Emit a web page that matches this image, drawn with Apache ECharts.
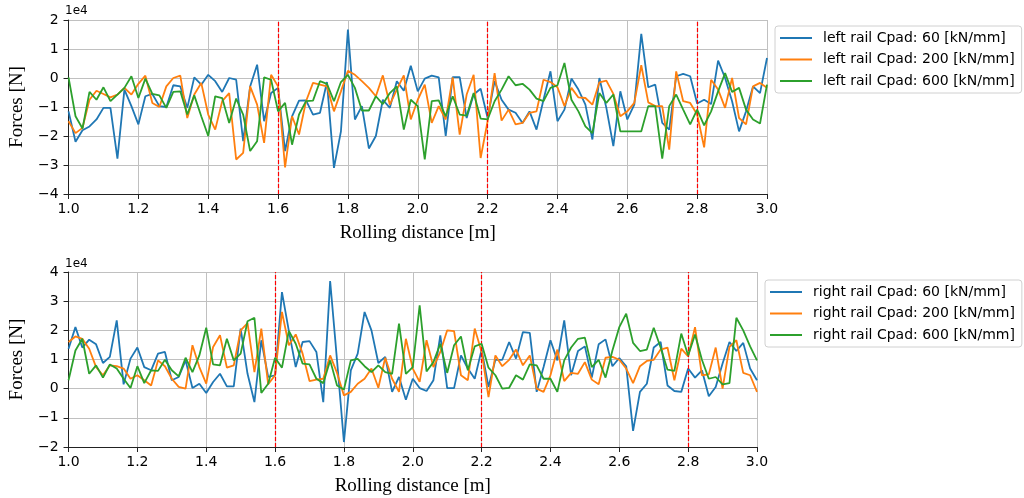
<!DOCTYPE html>
<html>
<head>
<meta charset="utf-8">
<script src="https://cdn.jsdelivr.net/npm/echarts@6/dist/echarts.min.js"></script>
<style>
html,body{margin:0;padding:0;background:#fff;}
#chart{width:1024px;height:498px;}
</style>
</head>
<body>
<div id="chart"></div>
<script>
// Rolling distance sampling (m)
const xStart = 1.0, xStep = 0.02, nPts = 101;
const xTicks = ['1.0','1.2','1.4','1.6','1.8','2.0','2.2','2.4','2.6','2.8','3.0'];
const markerX = [1.6, 2.2, 2.8];
const seriesNamesLeft = ['left rail Cpad: 60 [kN/mm]','left rail Cpad: 200 [kN/mm]','left rail Cpad: 600 [kN/mm]'];
const seriesNamesRight = ['right rail Cpad: 60 [kN/mm]','right rail Cpad: 200 [kN/mm]','right rail Cpad: 600 [kN/mm]'];

// Forces in units of 1e4 N
const left60 = [-1.15,-2.2,-1.8,-1.67,-1.43,-1.03,-1.03,-2.78,-0.4,-0.97,-1.6,-0.63,-0.55,-0.97,-1.0,-0.25,-0.29,-1.03,0.02,-0.23,0.11,-0.11,-0.48,0,-0.06,-2.18,-0.29,0.46,-1.49,-0.52,-0.34,-2.52,-1.32,-0.78,
 -0.77,-1.26,-1.2,-0.14,-3.1,-1.84,1.67,-1.43,-0.97,-2.43,-2.0,-0.75,-1.03,-0.11,-0.44,0.42,-0.46,-0.02,0.08,0.02,-2.0,0.03,0.03,-1.38,-0.57,-0.37,-1.38,-0.11,-0.75,-1.09,-1.2,-1.55,-1.15,-1.78,
 -0.75,0.23,-1.49,-1.09,-0.02,-0.4,-0.92,-2.12,0,-1.03,-2.35,-0.46,-1.43,-0.92,1.52,-0.32,-0.23,-1.55,-1.78,0.06,0.14,0.06,-0.88,-0.75,-0.9,0.6,0,-0.8,-1.84,-1.15,-0.29,-0.52,0.69];
const left200 = [-1.49,-1.9,-1.72,-0.75,-0.44,-0.55,-0.67,-0.57,-0.34,-0.57,-0.2,0.08,-0.86,-1.0,-0.29,0,0.08,-1.38,-0.57,-0.17,-1.26,-1.78,-0.8,-0.52,-2.81,-2.58,-0.29,-0.92,-2.24,0.11,-0.29,-3.08,-1.32,-1.95,
 -0.8,-0.17,-0.23,-0.29,-1.15,-0.46,0.25,0.11,-0.11,-0.34,-0.63,0.09,-0.92,-0.4,0.09,-1.43,-0.75,-0.23,-1.55,-0.97,-1.43,0.02,-1.95,-0.57,0.11,-2.76,-1.49,0.17,-1.47,-1.09,-1.6,-1.55,-1.2,-1.15,
 -0.06,-0.14,-0.32,-0.97,-0.34,-0.67,-0.69,-0.92,-0.15,-0.09,-0.55,-1.32,-1.15,-0.86,0.44,-0.84,-0.97,-0.97,-2.47,0.23,-0.8,-0.86,-1.26,-2.39,-0.06,-0.4,-1.03,0,-1.38,-1.6,-0.29,-0.17,-0.34];
const left600 = [0.02,-1.32,-1.74,-0.48,-0.75,-0.32,-0.8,-0.57,-0.34,0.06,-0.69,-0.02,-0.55,-0.6,-1.03,-0.48,-0.46,-1.26,-0.6,-1.32,-2.0,-0.63,-0.69,-1.55,-0.71,-1.26,-2.52,-2.18,0.02,-0.06,-1.15,-0.86,-2.3,-1.26,
 -0.8,-0.78,-0.11,-0.2,-0.8,-0.14,0.11,-0.34,-1.12,-1.12,-0.63,-0.9,-0.52,-0.29,-1.78,-0.75,-0.97,-2.81,-0.8,-0.77,-1.32,-0.63,-1.26,-1.3,-0.52,-1.4,-1.43,-0.8,-0.4,0.06,-0.25,-0.2,-0.4,-0.71,
 -0.8,-0.34,-0.25,0.52,-0.75,-1.15,-1.67,-1.9,-0.52,-0.86,-0.57,-1.84,-1.84,-1.84,-1.84,-0.97,-0.97,-2.78,-0.97,-0.57,-1.09,-1.6,-1.09,-1.63,-1.15,-0.46,0.17,-0.48,-0.34,-1.09,-1.43,-1.57,-0.23];

const right60 = [1.37,2.11,1.41,1.68,1.52,0.88,1.09,2.34,0.15,1.03,1.41,0.74,0.63,1.2,1.26,0.29,0.4,0.97,0.02,0.17,-0.15,0.23,0.51,0.08,0.08,2.06,0.51,-0.46,1.66,0.4,0.46,3.31,1.98,0.74,1.6,
 1.63,1.26,-0.46,3.69,0.97,-1.83,0.63,1.2,2.63,2.0,0.88,1.09,-0.11,0.4,-0.38,0.34,0.02,-0.08,0.29,1.83,0.02,0.02,1.14,0.69,0.34,1.34,0.06,0.99,0.99,1.6,1.03,1.94,1.91,-0.11,
 0.74,1.66,0.97,2.34,0.46,1.29,1.45,0.38,1.52,1.69,0.77,1.05,0.77,-1.45,-0.11,0.17,1.41,1.6,0.11,-0.08,-0.11,0.69,0.38,0.63,-0.26,0.06,0.86,1.6,1.29,1.57,0.69,0.29];
const right200 = [1.6,1.79,1.71,1.37,0.74,0.46,0.8,0.77,0.69,0.34,0.46,0.29,0.11,0.97,0.77,0.34,0.06,0,1.49,0.74,0.17,1.43,1.83,0.72,0.8,2.0,2.25,0.57,2.06,0.15,0.46,2.63,1.49,1.86,1.2,
 0.26,0.31,0.34,1.14,0.54,-0.23,-0.11,0.17,0.34,0.69,0.03,1.06,0.34,-0.11,1.71,0.69,0.23,1.66,0.74,1.26,2.0,1.97,0.46,0.29,2.06,1.26,-0.29,1.14,0.77,0.99,1.34,0.8,1.14,
 0,-0.11,0.46,1.34,0.26,0.54,0.51,0.91,0.31,0.15,1.06,1.09,0.99,0.69,0.19,0.77,0.95,0.99,1.34,1.41,0.29,1.37,1.11,2.11,0.46,0.49,1.41,0,1.43,1.66,0.54,0.46,-0.11];
const right600 = [0.29,1.31,1.71,0.51,0.8,0.38,0.83,0.69,0.34,0.02,0.77,0.19,0.63,0.61,0.99,0.63,0.42,1.06,0.57,1.14,2.09,0.83,0.8,1.71,0.97,1.2,2.31,2.43,-0.15,0.17,1.06,0.72,1.98,1.54,
 0.86,0.83,0.34,0.19,0.97,0.11,-0.03,0.97,1.02,0.77,0.57,0.8,0.57,0.51,2.23,0.51,0.74,2.86,0.59,0.91,1.54,0.54,1.49,1.79,0.63,1.45,1.54,0.72,0.46,0,0.03,0.46,0.31,0.83,
 0.8,0.34,0.34,-0.11,0.97,1.41,1.71,1.75,0.74,0.99,0.38,1.31,2.11,2.57,1.57,1.29,1.34,2.09,1.41,0.65,0.61,1.89,1.14,1.86,0.99,0.34,0.4,0.15,0.19,2.43,2.0,1.45,0.97];

const colors = ['#1f77b4','#ff7f0e','#2ca02c'];
const distance = Array.from({length: nPts}, (_, i) => +(xStart + i * xStep).toFixed(2));
const pair = arr => arr.map((v, i) => [distance[i], v]);

const tickFont = {fontFamily: 'DejaVu Sans', fontSize: 14, color: '#000'};
const titleFont = {fontFamily: 'Liberation Serif', fontSize: 19, color: '#000'};
const minus = v => String(v).replace('-', '\u2212');

function makeX(gi) {
  return {
    type: 'value', gridIndex: gi, min: 1, max: 3, interval: 0.2,
    name: 'Rolling distance [m]', nameLocation: 'middle', nameGap: 30,
    nameTextStyle: titleFont,
    axisLine: {show: true, onZero: false, lineStyle: {color: '#222', width: 1}},
    axisTick: {show: true, length: 5, lineStyle: {color: '#222'}},
    axisLabel: Object.assign({margin: 8, formatter: v => v.toFixed(1)}, tickFont),
    splitLine: {show: true, lineStyle: {color: '#c0c0c0', width: 1}}
  };
}
function makeY(gi, mn, mx) {
  return {
    type: 'value', gridIndex: gi, min: mn, max: mx, interval: 1,
    name: 'Forces [N]', nameLocation: 'middle', nameGap: 38,
    nameTextStyle: titleFont,
    axisLine: {show: true, lineStyle: {color: '#222', width: 1}},
    axisTick: {show: true, length: 5, lineStyle: {color: '#222'}},
    axisLabel: Object.assign({margin: 10, formatter: v => minus(v)}, tickFont),
    splitLine: {show: true, lineStyle: {color: '#c0c0c0', width: 1}}
  };
}
function lineSeries(name, data, ci, gi, withMarks) {
  const s = {
    name, type: 'line', xAxisIndex: gi, yAxisIndex: gi,
    data: pair(data), showSymbol: false, symbol: 'none',
    lineStyle: {color: colors[ci], width: 1.8}, itemStyle: {color: colors[ci]},
    animation: false, z: 3 + ci
  };
  if (withMarks) {
    s.markLine = {
      silent: true, symbol: 'none', label: {show: false}, animation: false,
      lineStyle: {color: '#ff0000', type: [4, 2], width: 1.2},
      data: markerX.map(x => ({xAxis: x}))
    };
  }
  return s;
}

const legendBase = {
  orient: 'vertical', icon: 'rect', itemWidth: 32, itemHeight: 2, itemGap: 7.5,
  padding: [5, 7, 5, 5], borderColor: '#d0d0d0', borderWidth: 1, borderRadius: 3,
  backgroundColor: '#fff',
  textStyle: {fontFamily: 'DejaVu Sans', fontSize: 14, color: '#000', lineHeight: 14, padding: [0, 0, 0, 6]}
};

const chart = echarts.init(document.getElementById('chart'), null, {renderer: 'canvas'});
chart.setOption({
  animation: false,
  backgroundColor: '#fff',
  grid: [
    {left: 65, top: 20, width: 702, height: 174},
    {left: 65, top: 272, width: 692, height: 175}
  ],
  xAxis: [makeX(0), makeX(1)],
  yAxis: [makeY(0, -4, 2), makeY(1, -2, 4)],
  legend: [
    Object.assign({}, legendBase, {left: 775, top: 26, data: seriesNamesLeft}),
    Object.assign({}, legendBase, {left: 765, top: 280, data: seriesNamesRight})
  ],
  graphic: [
    {type: 'text', left: 65, top: 5, style: {text: '1e4', font: '12px "DejaVu Sans"', fill: '#000'}},
    {type: 'text', left: 65, top: 258, style: {text: '1e4', font: '12px "DejaVu Sans"', fill: '#000'}}
  ],
  series: [
    lineSeries(seriesNamesLeft[0], left60, 0, 0, true),
    lineSeries(seriesNamesLeft[1], left200, 1, 0, false),
    lineSeries(seriesNamesLeft[2], left600, 2, 0, false),
    lineSeries(seriesNamesRight[0], right60, 0, 1, true),
    lineSeries(seriesNamesRight[1], right200, 1, 1, false),
    lineSeries(seriesNamesRight[2], right600, 2, 1, false)
  ]
});
</script>
</body>
</html>
